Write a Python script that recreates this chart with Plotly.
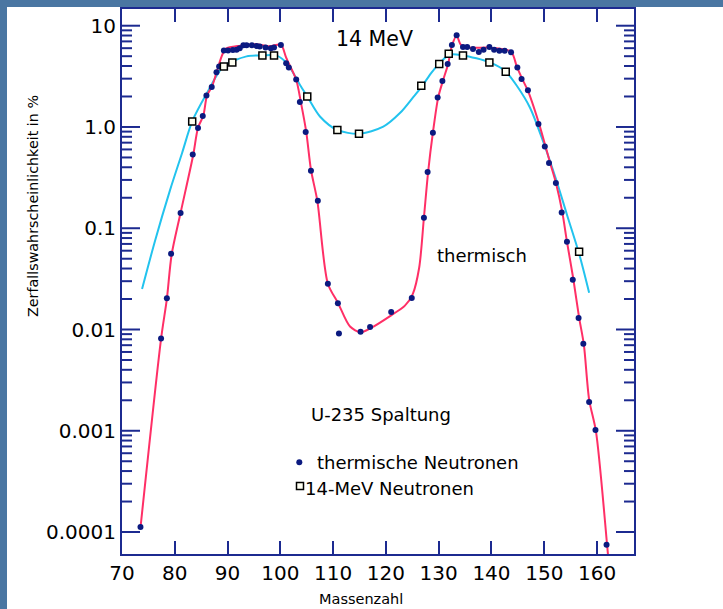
import math
import plotly.graph_objects as go

# Fission product yields of U-235 (mass number, yield in %)
thermal_mass = [73.5, 77.4, 78.5, 79.3, 81.1, 83.4, 84.4, 85.3, 86.0, 87.0, 87.9, 88.4,
                89.3, 90.1, 91.0, 91.7, 92.3, 93.0, 93.6, 94.6, 95.5, 96.1, 97.2, 98.2,
                98.8, 100.1, 101.1, 101.6, 103.0, 103.7, 104.8, 105.8, 107.1, 109.0,
                110.9, 111.1, 115.2, 117.0, 121.0, 124.9, 127.2, 127.9, 128.9, 129.8,
                130.7, 131.7, 132.5, 133.4, 134.6, 135.4, 136.5, 137.6, 138.5, 139.6,
                140.5, 141.5, 142.5, 143.7, 144.9, 145.7, 146.9, 148.9, 150.1, 150.9,
                152.2, 153.3, 154.3, 155.4, 156.5, 157.4, 158.5, 159.7, 161.8]
thermal_yield = [0.000112, 0.00817, 0.0203, 0.056, 0.141, 0.536, 0.975, 1.28, 2.04, 2.48,
                 3.48, 3.96, 5.7, 5.7, 5.75, 5.8, 6.0, 6.4, 6.4, 6.4, 6.3, 6.25, 6.1, 6.0,
                 6.1, 6.45, 4.25, 3.87, 2.95, 1.76, 0.89, 0.37, 0.187, 0.0283, 0.0182,
                 0.00914, 0.0095, 0.0106, 0.0149, 0.0205, 0.127, 0.359, 0.877, 1.96, 2.84,
                 4.18, 6.44, 8.04, 6.17, 6.17, 5.89, 5.50, 5.79, 6.17, 5.79, 5.66, 5.66,
                 5.46, 3.87, 2.98, 2.30, 1.07, 0.643, 0.441, 0.279, 0.143, 0.0736, 0.0310,
                 0.0130, 0.00724, 0.00192, 0.00102, 0.000075]

fast_mass = [83.3, 89.3, 90.9, 96.6, 98.8, 105.1, 110.8, 114.9, 126.7, 130.1, 131.9,
             134.6, 139.6, 142.7, 156.6]
fast_yield = [1.135, 3.96, 4.34, 5.09, 5.09, 2.0, 0.933, 0.857, 2.55, 4.18, 5.28, 5.09,
              4.34, 3.52, 0.0586]

# Smooth fitted yield curves
thermal_fit_mass = [73.5, 77.4, 78.5, 79.4, 81.1, 83.5, 84.4, 85.4, 86.1, 87.1, 88.0,
                    89.0, 89.7, 92.4, 95.2, 98.0, 100.1, 101.1, 103.0, 103.9, 104.9,
                    105.8, 107.0, 109.0, 110.9, 113.2, 115.2, 117.1, 121.0, 123.6,
                    125.1, 126.3, 127.2, 128.0, 128.9, 129.9, 130.8, 131.8, 132.5,
                    133.4, 134.2, 135.9, 139.7, 143.7, 144.8, 145.8, 146.9, 149.0,
                    150.2, 151.1, 152.2, 153.4, 154.3, 155.5, 156.6, 157.5, 158.5,
                    159.8, 161.9, 162.5]
thermal_fit_yield = [0.00011, 0.0081, 0.0201, 0.0547, 0.142, 0.532, 0.984, 1.29, 2.04,
                     2.55, 3.59, 5.17, 5.93, 6.35, 6.57, 6.28, 6.49, 4.83, 2.93, 1.74,
                     0.898, 0.378, 0.187, 0.0283, 0.0184, 0.0107, 0.0094, 0.0103, 0.0138,
                     0.0172, 0.0225, 0.0407, 0.127, 0.361, 0.877, 1.95, 2.86, 4.22, 6.35,
                     7.96, 6.49, 6.07, 6.07, 5.54, 3.94, 3.00, 2.28, 1.08, 0.653, 0.444,
                     0.282, 0.146, 0.0736, 0.0317, 0.0131, 0.00708, 0.00203, 0.00098,
                     0.000075, 0.0000338]

fast_fit_mass = [73.8, 76.25, 79.1, 81.4, 83.3, 86.1, 89.2, 93.6, 96.7, 99.3, 101.3,
                 103.7, 105.1, 107.5, 110.8, 114.9, 119.5, 122.7, 125.1, 126.9, 128.6,
                 130.1, 132.0, 134.6, 139.7, 142.7, 144.8, 147.3, 149.8, 152.2, 154.3,
                 156.6, 158.5]
fast_fit_yield = [0.0251, 0.0748, 0.238, 0.557, 1.135, 2.16, 3.96, 4.98, 5.09, 5.06, 4.22,
                  2.61, 2.00, 1.27, 0.933, 0.857, 1.007, 1.38, 1.95, 2.55, 3.43, 4.22,
                  5.17, 5.09, 4.34, 3.52, 2.55, 1.55, 0.715, 0.308, 0.136, 0.056, 0.0231]

x_ticks = [70, 80, 90, 100, 110, 120, 130, 140, 150, 160]
y_tick_vals = [10, 1, 0.1, 0.01, 0.001, 0.0001]
y_tick_text = ["10", "1.0", "0.1", "0.01", "0.001", "0.0001"]
y_minor_vals = [k * 10.0 ** d for d in range(-4, 1) for k in range(2, 10)]
y_range = [-4.217, 1.165]

# page geometry (pixels)
W, H = 723, 609
ML, MR, MT, MB = 122, 89, 9, 55
PW, PH = W - ML - MR, H - MT - MB


def px(xp):
    return (xp - ML) / PW


def py(yp):
    return (H - MB - yp) / PH


def y_frac(v):
    """fractional height of a value on the log y axis"""
    return (math.log10(v) - y_range[0]) / (y_range[1] - y_range[0])


FRAME = "#1c2a90"
FONT = "DejaVu Sans"

fig = go.Figure()
fig.add_trace(go.Scatter(x=fast_fit_mass, y=fast_fit_yield, mode="lines",
                         line=dict(color="#22c3ee", width=2, shape="spline", smoothing=0.8),
                         hoverinfo="skip"))
fig.add_trace(go.Scatter(x=thermal_fit_mass, y=thermal_fit_yield, mode="lines",
                         line=dict(color="#ff2f66", width=2, shape="spline", smoothing=0.8),
                         hoverinfo="skip"))
fig.add_trace(go.Scatter(x=thermal_mass, y=thermal_yield, mode="markers",
                         marker=dict(symbol="circle", size=6, color="#0b1a80"),
                         name="thermische Neutronen"))
fig.add_trace(go.Scatter(x=fast_mass, y=fast_yield, mode="markers",
                         marker=dict(symbol="square", size=7, color="#fffff2",
                                     line=dict(color="black", width=1.5)),
                         name="14-MeV Neutronen"))

tickfont = dict(family=FONT, size=20, color="black")
fig.update_xaxes(range=[70, 167], tickmode="array", tickvals=x_ticks, ticklen=13,
                 showline=True, linecolor=FRAME, linewidth=2, mirror="allticks",
                 ticks="inside", tickcolor=FRAME, tickwidth=2, showgrid=False,
                 zeroline=False, tickfont=tickfont)
fig.update_yaxes(type="log", range=y_range, tickmode="array",
                 tickvals=y_tick_vals, ticktext=y_tick_text, ticks="",
                 showline=True, linecolor=FRAME, linewidth=2, mirror=True,
                 showgrid=False, zeroline=False, tickfont=tickfont)

band = "#4a76a2"
shapes = [
    dict(type="rect", xref="paper", yref="paper", x0=px(0), x1=px(7), y0=py(H), y1=py(0),
         fillcolor=band, line=dict(width=0), layer="below"),
    dict(type="rect", xref="paper", yref="paper", x0=px(0), x1=px(W), y0=py(7), y1=py(0),
         fillcolor=band, line=dict(width=0), layer="below"),
    # legend symbols
    dict(type="circle", xref="paper", yref="paper", x0=px(296.3), x1=px(302.3),
         y0=py(465.3), y1=py(459.3), fillcolor="#0b1a80", line=dict(width=0)),
    dict(type="rect", xref="paper", yref="paper", x0=px(296.5), x1=px(303.5),
         y0=py(489.5), y1=py(482.5), fillcolor="#fffff2",
         line=dict(color="black", width=1.5)),
]

# log-axis tick combs on both sides of the frame (major 18 px, minor 10 px)
for vals, length in ((y_tick_vals, 18), (y_minor_vals, 10)):
    for v in vals:
        f = y_frac(v)
        for x0, x1 in ((0, length / PW), (1 - length / PW, 1)):
            shapes.append(dict(type="line", xref="paper", yref="paper",
                               x0=x0, x1=x1, y0=f, y1=f,
                               line=dict(color=FRAME, width=2)))

txt = dict(family=FONT, color="black")
annotations = [
    dict(text="14 MeV", x=px(374), y=py(39), font=dict(size=20.5, **txt)),
    dict(text="thermisch", x=px(482), y=py(255), font=dict(size=18, **txt)),
    dict(text="U-235 Spaltung", x=px(381), y=py(414), font=dict(size=18, **txt)),
    dict(text="thermische Neutronen", x=px(315), y=py(463), xanchor="left",
         font=dict(size=18, **txt)),
    dict(text="14-MeV Neutronen", x=px(303), y=py(488), xanchor="left",
         font=dict(size=18, **txt)),
    dict(text="Zerfallswahrscheinlichkeit in %", x=px(33), y=py(206), textangle=-90,
         font=dict(size=14.3, **txt)),
    dict(text="Massenzahl", x=px(361), y=py(609), yanchor="bottom",
         font=dict(size=14.5, **txt)),
]
for a in annotations:
    a.update(xref="paper", yref="paper", showarrow=False)
    a.setdefault("xanchor", "center")
    a.setdefault("yanchor", "middle")

fig.update_layout(
    width=W, height=H, margin=dict(l=ML, r=MR, t=MT, b=MB, autoexpand=False),
    paper_bgcolor="white", plot_bgcolor="white", showlegend=False,
    shapes=shapes, annotations=annotations,
)

fig.write_html("out.html")
